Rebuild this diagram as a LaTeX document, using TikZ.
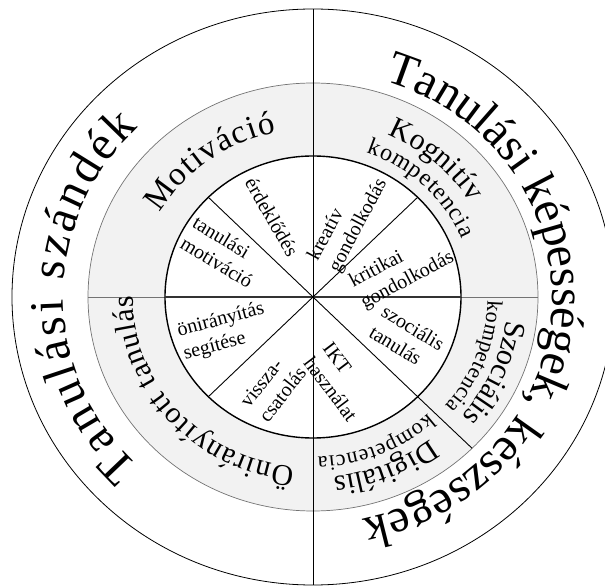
\documentclass[tikz,border=0pt]{standalone}
\usepackage{fontspec}
\setmainfont{Liberation Serif}
\usetikzlibrary{decorations.text}

% curved label: start angle, end angle, radius, raise, font size, text
\newcommand{\arclabel}[6]{%
  \path[decorate, decoration={text along path, text align={fit to path}, raise=#4pt,
      text={|\fontsize{#5}{#5}\selectfont|#6}}]
    (#1:{1.05*#3} and #3) arc[start angle=#1, end angle=#2, x radius={1.05*#3}, y radius=#3];}

\begin{document}
\begin{tikzpicture}[x=1pt, y=1pt]
    \tikzstyle{ring} = [draw=black!55, line width=0.7pt, fill=black!5]
    \tikzstyle{core} = [draw=black, line width=1.4pt, fill=white]
    \tikzstyle{spoke} = [draw=black, line width=0.9pt]
    \tikzstyle{sector} = [font=\fontsize{20}{24}\selectfont, align=left, inner sep=0pt]

    \useasboundingbox (-313,-289) rectangle (292,297);

    % Rings
    \coordinate (O) at (0,0);
    \draw [line width=0.8pt] (O) ellipse [x radius=301, y radius=288];
    \path [ring] (O) ellipse [x radius=225, y radius=214];
    \draw [black!55, line width=0.7pt] (-225,0) -- (225,0);
    \draw [spoke] (-45:148 and 141) -- (-45:225 and 214);
    \path [core] (O) ellipse [x radius=148, y radius=141];

    % Spokes
    \draw [spoke] (0,288) -- (0,-288);
    \draw [black!80, line width=1.2pt] (-148,0) -- (148,0);
    \draw [spoke] (O) -- (45:148 and 141);
    \draw [spoke] (O) -- (135:148 and 141);
    \draw [spoke] (O) -- (225:148 and 141);
    \draw [spoke] (O) -- (-45:148 and 141);

    % Outer ring
    \arclabel{225.5}{134.5}{251}{-14}{48}{Tanulási szándék}
    \arclabel{72.4}{-77.9}{243}{-16}{48}{Tanulási képességek, készségek}

    % Middle ring
    \arclabel{149.4}{102}{178}{-10}{33}{Motiváció}
    \arclabel{66.3}{32.5}{186}{-9}{30}{Kognitív}
    \arclabel{70.7}{22.4}{159}{-6}{24}{kompetencia}
    \arclabel{-7.3}{-40.2}{194}{-9}{30}{Szociális}
    \arclabel{-1.3}{-41.1}{172}{-6}{22}{kompetencia}
    \arclabel{-52.2}{-83.8}{190}{-9}{30}{Digitális}
    \arclabel{-47}{-88.4}{166}{-6}{22}{kompetencia}
    \arclabel{264}{179.7}{180}{-9}{30}{Önirányított tanulás}

    % Inner sectors
    \node [sector, rotate=-60] (erdek) at (-41,80) {érdeklődés};
    \node [sector, rotate=-31] (tanmot) at (-90,45) {tanulási\\motiváció};
    \node [sector, rotate=62] (kreativ) at (35,77) {kreatív\\gondolkodás};
    \node [sector, rotate=28] (kritikai) at (89,27) {kritikai\\gondolkodás};
    \node [sector, rotate=-31] (szoctan) at (94,-41) {szociális\\tanulás};
    \node [sector, rotate=-53] (ikt) at (27,-85) {IKT\\használat};
    \node [sector, rotate=52] (vissza) at (-40,-90) {vissza-\\csatolás};
    \node [sector, rotate=15] (onir) at (-89,-35) {önirányítás\\segítése};
\end{tikzpicture}
\end{document}
